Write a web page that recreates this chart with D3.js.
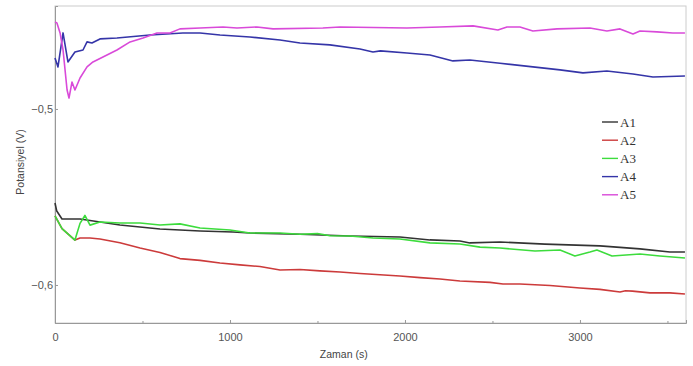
<!DOCTYPE html>
<html>
<head>
<meta charset="utf-8">
<script src="https://cdn.jsdelivr.net/npm/d3@7"></script>
<style>
  body { margin: 0; background: #fff; }
  .axis text { font-family: Arial, "Liberation Sans", sans-serif; font-size: 11px; fill: #555; }
  .axis path, .axis line { stroke: #999; }
  .lbl { font-family: Arial, "Liberation Sans", sans-serif; font-size: 10.5px; fill: #444; }
  .leg { font-family: "Liberation Serif", "Times New Roman", serif; font-size: 13px; fill: #333; }
</style>
</head>
<body>
<div id="graf"></div>
<script>
// Datos: tiempo (s) y potencial (V)
const series = ["A1", "A2", "A3", "A4", "A5"]
const colores = ["#333333", "#cc3b3b", "#3ddc3d", "#3535a8", "#d94ad9"]

const tA1 = [0, 10, 40, 143, 371, 600, 829, 1017, 1114, 1400, 1686, 1971, 2143, 2314, 2371, 2543, 2800, 3114, 3343, 3514, 3600]
const vA1 = [-0.5534, -0.5580, -0.5625, -0.5625, -0.5659, -0.5682, -0.5693, -0.5699, -0.5705, -0.5712, -0.5722, -0.5727, -0.5744, -0.5750, -0.5761, -0.5756, -0.5768, -0.5778, -0.5795, -0.5813, -0.5813]

const tA2 = [0, 40, 114, 143, 200, 257, 371, 486, 600, 714, 829, 943, 1057, 1171, 1286, 1400, 1514, 1629, 1743, 1857, 1971, 2086, 2200, 2314, 2486, 2560, 2657, 2829, 3000, 3114, 3229, 3260, 3300, 3400, 3514, 3600]
const vA2 = [-0.5608, -0.5680, -0.5745, -0.5733, -0.5733, -0.5739, -0.5760, -0.5790, -0.5815, -0.5850, -0.5860, -0.5875, -0.5886, -0.5895, -0.5915, -0.5912, -0.5920, -0.5926, -0.5935, -0.5942, -0.5949, -0.5958, -0.5966, -0.5977, -0.5985, -0.5994, -0.5994, -0.6003, -0.6017, -0.6025, -0.6040, -0.6033, -0.6035, -0.6045, -0.6045, -0.6051]

const tA3 = [0, 40, 114, 143, 171, 200, 257, 371, 486, 600, 714, 829, 1000, 1114, 1286, 1400, 1500, 1571, 1686, 1817, 1971, 2143, 2314, 2429, 2543, 2743, 2886, 2971, 3057, 3097, 3183, 3343, 3457, 3600]
const vA3 = [-0.5608, -0.5680, -0.5745, -0.5650, -0.5605, -0.5660, -0.5642, -0.5648, -0.5648, -0.5659, -0.5653, -0.5676, -0.5688, -0.5705, -0.5705, -0.5712, -0.5708, -0.5720, -0.5722, -0.5733, -0.5739, -0.5761, -0.5767, -0.5785, -0.5790, -0.5807, -0.5801, -0.5835, -0.5813, -0.5801, -0.5835, -0.5824, -0.5835, -0.5847]

const tA4 = [0, 17, 46, 74, 114, 160, 183, 211, 257, 354, 543, 731, 829, 943, 1114, 1286, 1400, 1571, 1743, 1817, 1860, 2011, 2143, 2274, 2371, 2543, 2731, 2886, 3017, 3154, 3303, 3417, 3600]
const vA4 = [-0.4710, -0.4761, -0.4568, -0.4733, -0.4676, -0.4665, -0.4619, -0.4625, -0.4602, -0.4597, -0.4580, -0.4568, -0.4568, -0.4580, -0.4591, -0.4608, -0.4625, -0.4636, -0.4659, -0.4676, -0.4670, -0.4682, -0.4693, -0.4727, -0.4722, -0.4740, -0.4761, -0.4778, -0.4795, -0.4784, -0.4801, -0.4818, -0.4813]

const tA5 = [0, 11, 29, 46, 69, 80, 97, 114, 143, 183, 217, 297, 354, 429, 503, 583, 657, 714, 829, 960, 1040, 1154, 1246, 1531, 1629, 2011, 2200, 2389, 2531, 2583, 2657, 2731, 2869, 3057, 3154, 3229, 3303, 3343, 3440, 3531, 3600]
const vA5 = [-0.4506, -0.4511, -0.4568, -0.4665, -0.4892, -0.4938, -0.4847, -0.4892, -0.4824, -0.4761, -0.4733, -0.4693, -0.4665, -0.4619, -0.4597, -0.4568, -0.4568, -0.4545, -0.4540, -0.4534, -0.4540, -0.4534, -0.4545, -0.4540, -0.4534, -0.4540, -0.4534, -0.4528, -0.4551, -0.4534, -0.4534, -0.4557, -0.4545, -0.4540, -0.4557, -0.4545, -0.4574, -0.4557, -0.4562, -0.4568, -0.4568]

const tiempos = [tA1, tA2, tA3, tA4, tA5]
const valores = [vA1, vA2, vA3, vA4, vA5]

const xTicks = [0, 1000, 2000, 3000]
const xMinor = [500, 1500, 2500, 3500]
const yTicks = [-0.6, -0.5]

const anchoTotal = 693
const altoTotal = 366
const margins = { top: 6, right: 7, bottom: 43, left: 55 }
const ancho = anchoTotal - margins.left - margins.right
const alto = altoTotal - margins.top - margins.bottom

const svg = d3.select("#graf")
  .append("svg")
  .attr("width", anchoTotal)
  .attr("height", altoTotal)

const g = svg.append("g")
  .attr("transform", `translate(${margins.left}, ${margins.top})`)

// Escaladores
const x = d3.scaleLinear().domain([0, 3606]).range([0, ancho])
const y = d3.scaleLinear().domain([-0.6216, -0.4415]).range([alto, 0])

// marco
g.append("rect")
  .attr("width", ancho)
  .attr("height", alto)
  .attr("fill", "none")
  .attr("stroke", "#ccc")

const fmt = (d) => d3.format(".1f")(d).replace(".", ",")

const xAxis = g.append("g")
  .attr("class", "axis")
  .attr("transform", `translate(0, ${alto})`)
  .call(d3.axisBottom(x).tickValues(xTicks).tickSize(-3).tickPadding(10).tickFormat(d3.format("d")))
xAxis.select(".domain").attr("stroke", "#999")

g.append("g")
  .attr("class", "axis")
  .attr("transform", `translate(0, ${alto})`)
  .call(d3.axisBottom(x).tickValues(xMinor).tickSize(-2).tickFormat(""))
  .select(".domain").remove()

g.append("g")
  .attr("class", "axis")
  .call(d3.axisLeft(y).tickValues(yTicks).tickSize(-3).tickPadding(2).tickFormat(fmt))

// lineas
const linea = d3.line()
  .x((d) => x(d[0]))
  .y((d) => y(d[1]))

series.forEach((s, i) => {
  const datos = tiempos[i].map((t, j) => [t, valores[i][j]])
  g.append("path")
    .datum(datos)
    .attr("fill", "none")
    .attr("stroke", colores[i])
    .attr("stroke-width", 1.6)
    .attr("stroke-linejoin", "round")
    .attr("d", linea)
})

// etiquetas de ejes
svg.append("text")
  .attr("class", "lbl")
  .attr("x", margins.left + x(1650))
  .attr("y", 358)
  .attr("text-anchor", "middle")
  .text("Zaman (s)")

svg.append("text")
  .attr("class", "lbl")
  .attr("transform", "translate(24, 162) rotate(-90)")
  .attr("text-anchor", "middle")
  .text("Potansiyel (V)")

// leyenda
const leg = svg.append("g").attr("transform", "translate(602, 122)")
series.forEach((s, i) => {
  leg.append("line")
    .attr("x1", 0).attr("x2", 16)
    .attr("y1", i * 18.2).attr("y2", i * 18.2)
    .attr("stroke", colores[i])
    .attr("stroke-width", 1.4)
  leg.append("text")
    .attr("class", "leg")
    .attr("x", 18)
    .attr("y", i * 18.2 + 4.5)
    .text(s)
})
</script>
</body>
</html>
